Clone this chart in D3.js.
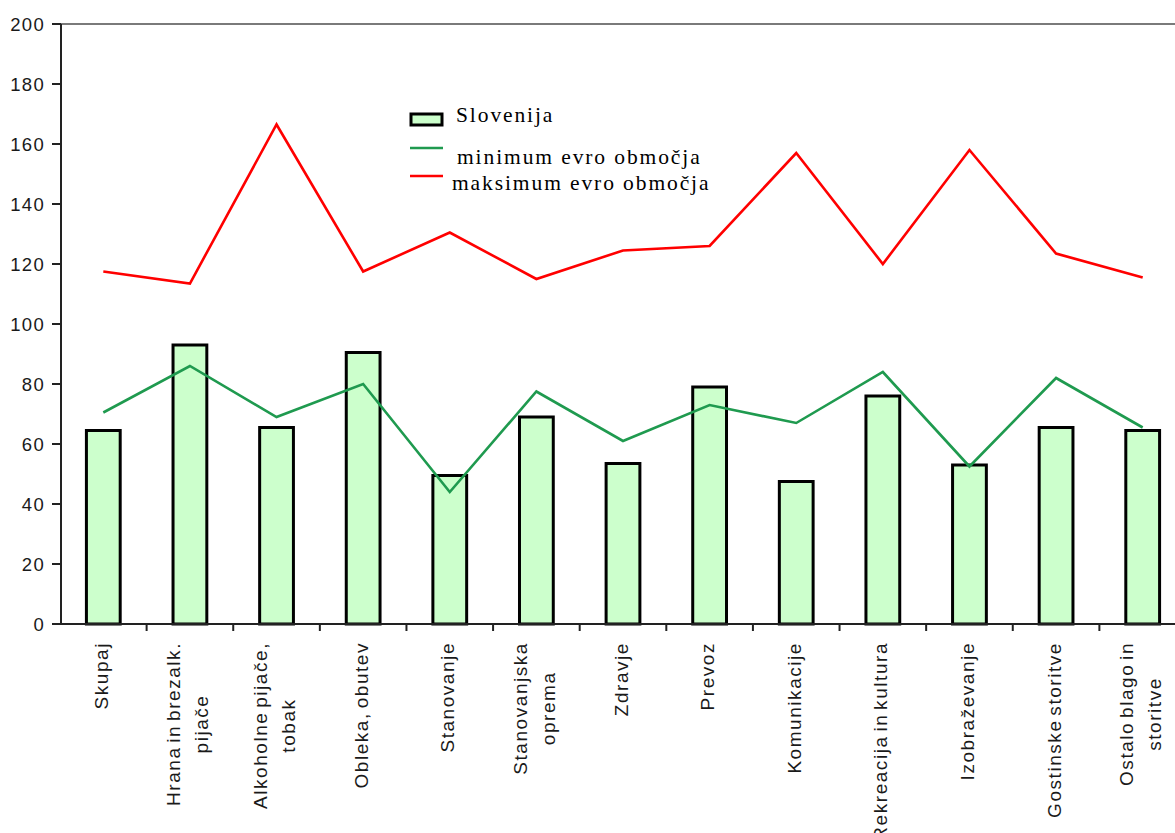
<!DOCTYPE html>
<html>
<head>
<meta charset="utf-8">
<script src="https://cdn.jsdelivr.net/npm/d3@7"></script>
<style>
  html, body { margin: 0; padding: 0; background: #ffffff; }
  svg { display: block; }
</style>
</head>
<body>
<svg id="chart" width="1175" height="833"></svg>
<script>
const categories = [
  ["Skupaj"],
  ["Hrana in brezalk.", "pijače"],
  ["Alkoholne pijače,", "tobak"],
  ["Obleka, obutev"],
  ["Stanovanje"],
  ["Stanovanjska", "oprema"],
  ["Zdravje"],
  ["Prevoz"],
  ["Komunikacije"],
  ["Rekreacija in kultura"],
  ["Izobraževanje"],
  ["Gostinske storitve"],
  ["Ostalo blago in", "storitve"]
];
const slovenija = [64.5, 93, 65.5, 90.5, 49.5, 69, 53.5, 79, 47.5, 76, 53, 65.5, 64.5];
const minimumEvro = [70.5, 86, 69, 80, 44, 77.5, 61, 73, 67, 84, 52.5, 82, 65.5];
const maksimumEvro = [117.5, 113.5, 166.5, 117.5, 130.5, 115, 124.5, 126, 157, 120, 158, 123.5, 115.5];
const yTicks = [0, 20, 40, 60, 80, 100, 120, 140, 160, 180, 200];
const legendLabels = ["Slovenija", "minimum evro območja", "maksimum evro območja"];

(function () {
const svg = d3.select("#chart");
const W = 1175;
const pLeft = 60, pRight = 1186, pTop = 24, pBottom = 624;

const keys = categories.map((c, i) => String(i));
const x = d3.scaleBand().domain(keys).range([pLeft, pRight]).paddingInner(0.61).paddingOuter(0.305);
const y = d3.scaleLinear().domain([0, 200]).range([pBottom, pTop]);
const step = x.step();
const cx = i => x(String(i)) + x.bandwidth() / 2;

// top border
svg.append("line").attr("x1", 61).attr("x2", W).attr("y1", y(200)).attr("y2", y(200))
  .attr("stroke", "#7a7a7a").attr("stroke-width", 2);

// bars
svg.append("g").selectAll("rect").data(slovenija).join("rect")
  .attr("x", (d, i) => x(String(i)))
  .attr("y", d => y(d))
  .attr("width", x.bandwidth())
  .attr("height", d => y(0) - y(d))
  .attr("fill", "#ccffcc")
  .attr("stroke", "#000")
  .attr("stroke-width", 3);

// y axis
const yAxis = svg.append("g");
yAxis.append("line").attr("x1", 61).attr("x2", 61).attr("y1", y(200)).attr("y2", y(0))
  .attr("stroke", "#222").attr("stroke-width", 2);
yAxis.selectAll("line.tick").data(yTicks).join("line").attr("class", "tick")
  .attr("x1", 52).attr("x2", 61).attr("y1", d => y(d)).attr("y2", d => y(d))
  .attr("stroke", "#222").attr("stroke-width", 2);
yAxis.selectAll("text").data(yTicks).join("text")
  .attr("x", 45).attr("y", d => y(d)).attr("dy", "0.36em")
  .attr("text-anchor", "end")
  .attr("font-family", "Liberation Sans, Arial, sans-serif")
  .attr("font-size", "18.5px").attr("letter-spacing", "1.3px")
  .attr("fill", "#1a1a1a")
  .text(d => d);

// x axis
const xAxis = svg.append("g");
xAxis.append("line").attr("x1", 61).attr("x2", W).attr("y1", y(0)).attr("y2", y(0))
  .attr("stroke", "#222").attr("stroke-width", 2);
xAxis.selectAll("line.tick").data(d3.range(1, categories.length)).join("line").attr("class", "tick")
  .attr("x1", d => pLeft + d * step).attr("x2", d => pLeft + d * step)
  .attr("y1", y(0)).attr("y2", y(0) + 7)
  .attr("stroke", "#222").attr("stroke-width", 2);

// x labels (rotated)
const lineGap = 28;
categories.forEach((lines, i) => {
  const g = xAxis.append("g").attr("transform", `translate(${cx(i)},642) rotate(-90)`);
  const texts = lines.map((ln, j) => g.append("text")
    .attr("y", 4.5 + (j - (lines.length - 1) / 2) * lineGap)
    .attr("text-anchor", "middle")
    .attr("font-family", "Liberation Sans, Arial, sans-serif")
    .attr("font-size", "19px").attr("letter-spacing", "1.55px").attr("word-spacing", "-3px")
    .attr("fill", "#1a1a1a")
    .text(ln));
  const maxLen = d3.max(texts, t => t.node().getComputedTextLength());
  texts.forEach(t => t.attr("x", -maxLen / 2));
});

// lines
const line = d3.line().x((d, i) => cx(i)).y(d => y(d));
svg.append("path").datum(minimumEvro).attr("d", line)
  .attr("fill", "none").attr("stroke", "#1f9a4f").attr("stroke-width", 2.6).attr("stroke-linejoin", "miter");
svg.append("path").datum(maksimumEvro).attr("d", line)
  .attr("fill", "none").attr("stroke", "#ff0000").attr("stroke-width", 2.6).attr("stroke-linejoin", "miter");

// legend
const lg = svg.append("g");
const lf = { family: "Liberation Serif, Times New Roman, serif", size: "21.5px", ls: "1.9px" };
lg.append("rect").attr("x", 411).attr("y", 114).attr("width", 31).attr("height", 11)
  .attr("fill", "#ccffcc").attr("stroke", "#000").attr("stroke-width", 3);
lg.append("line").attr("x1", 410).attr("x2", 443).attr("y1", 148).attr("y2", 148)
  .attr("stroke", "#1f9a4f").attr("stroke-width", 2.6);
lg.append("line").attr("x1", 410).attr("x2", 443).attr("y1", 176).attr("y2", 176)
  .attr("stroke", "#ff0000").attr("stroke-width", 2.6);
const legPos = [[456, 122], [457, 164], [452, 190]];
legendLabels.forEach((t, i) => {
  lg.append("text").attr("x", legPos[i][0]).attr("y", legPos[i][1])
    .attr("font-family", lf.family).attr("font-size", lf.size).attr("letter-spacing", lf.ls)
    .attr("fill", "#000").text(t);
});
})();
</script>
</body>
</html>
